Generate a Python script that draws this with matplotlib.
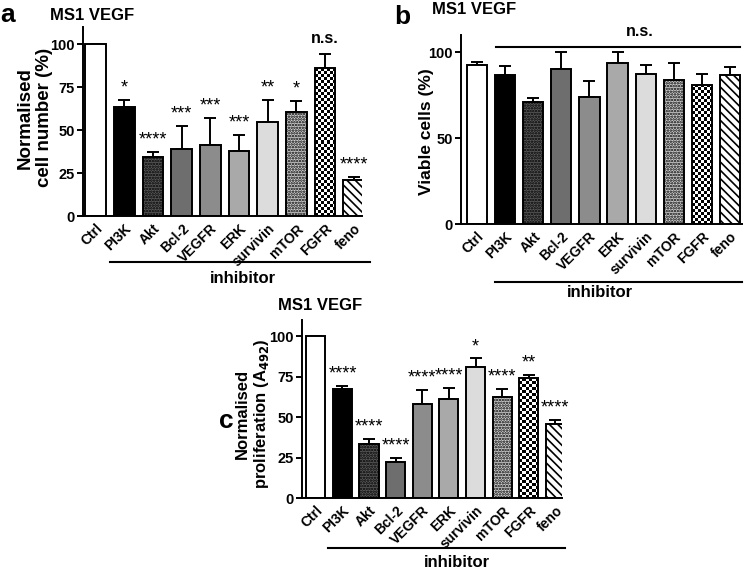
import numpy as np
import matplotlib
matplotlib.use("Agg")
import matplotlib.pyplot as plt
from matplotlib.lines import Line2D

plt.rcParams['font.family'] = ['Liberation Sans', 'DejaVu Sans']
plt.rcParams['font.weight'] = 'bold'
plt.rcParams['hatch.linewidth'] = 1.2

# categories (same for all three panels)
labels = ['Ctrl', 'PI3K', 'Akt', 'Bcl-2', 'VEGFR', 'ERK', 'survivin', 'mTOR', 'FGFR', 'feno']

# panel a: normalised cell number (%)
cell_mean = [100, 63.2, 34.5, 38.8, 41.1, 38.0, 54.5, 60.7, 85.9, 20.9]
cell_err = [0, 4.2, 2.9, 13.7, 15.7, 9.1, 13.3, 6.2, 8.3, 1.9]
cell_sig = ['', '*', '****', '***', '***', '***', '**', '*', 'n.s.', '****']

# panel b: viable cells (%)
viable_mean = [92.4, 86.6, 71.0, 90.3, 74.1, 93.8, 87.2, 84.1, 80.9, 86.8]
viable_err = [2.0, 5.6, 2.5, 9.7, 9.1, 6.2, 5.6, 9.7, 6.3, 4.3]

# panel c: normalised proliferation (A492)
prolif_mean = [100, 67.3, 33.1, 22.1, 58.0, 61.0, 80.7, 62.5, 74.1, 45.5]
prolif_err = [0, 2.0, 3.5, 2.7, 8.8, 6.9, 5.6, 4.8, 2.1, 2.7]
prolif_sig = ['', '****', '****', '****', '****', '****', '*', '****', '**', '****']

# bar styles (face colour, hatch); 'checker' is drawn as an image
faces = ['white', 'black', '#5a5a5a', '#6e6e6e', '#8c8c8c', '#a9a9a9',
         '#dcdcdc', '#d0d0d0', 'none', 'white']
hatches = [None, None, '......', None, None, None, None, '......', 'checker', '\\\\\\\\']

W, H = 745, 570
fig = plt.figure(figsize=(W / 100, H / 100), dpi=100)


def px_axes(left, right, bottom, top):
    # axes rectangle from pixel coordinates
    return fig.add_axes([left / W, 1 - bottom / H, (right - left) / W, (bottom - top) / H])


def checker(ax, bar, cell=3.0):
    # black/white checkerboard clipped to the bar
    x0, w, h = bar.get_x(), bar.get_width(), bar.get_height()
    p0 = ax.transData.transform((x0, 0))
    p1 = ax.transData.transform((x0 + w, h))
    ncol = max(1, int(round((p1[0] - p0[0]) / cell)))
    nrow = max(1, int(round((p1[1] - p0[1]) / cell)))
    grid = (np.add.outer(np.arange(nrow), np.arange(ncol)) % 2).astype(float)
    im = ax.imshow(grid, extent=(x0, x0 + w, 0, h), aspect='auto', cmap='gray',
                   interpolation='nearest', zorder=1.5, origin='lower')
    im.set_clip_path(bar)


def bar_panel(ax, means, errs, sigs, yticks, xlim):
    x = np.arange(len(labels))
    ax.set_xlim(*xlim)
    ax.set_ylim(0, 110)
    bars = ax.bar(x, means, width=0.72, color=faces, edgecolor='black', linewidth=1.4, zorder=2)
    for b, h in zip(bars, hatches):
        if h == 'checker':
            checker(ax, b)
        elif h:
            b.set_hatch(h)
    ax.errorbar(x, means, yerr=[np.zeros(len(errs)), errs], fmt='none', ecolor='black',
                elinewidth=1.4, capsize=4, capthick=1.4, zorder=1)
    if sigs:
        for xi, m, e, s in zip(x, means, errs, sigs):
            if not s:
                continue
            if s == 'n.s.':
                ax.text(xi, m + e + 5, s, ha='center', va='bottom', fontsize=11.5,
                        fontweight='bold')
            else:
                ax.text(xi, m + e + 2, s, ha='center', va='bottom', fontsize=13,
                        fontweight='normal')
    ax.set_xlim(*xlim)
    ax.set_ylim(0, 110)
    ax.set_yticks(yticks)
    ax.set_xticks(x)
    ax.set_xticklabels(labels, rotation=45, ha='right', rotation_mode='anchor',
                       fontsize=10, fontweight='bold')
    ax.tick_params(axis='x', length=0, pad=4)
    ax.tick_params(axis='y', length=4, width=1.4, labelsize=10.5, pad=2)
    for t in ax.get_yticklabels():
        t.set_fontweight('bold')
    ax.spines['top'].set_visible(False)
    ax.spines['right'].set_visible(False)
    ax.spines['left'].set_linewidth(1.4)
    ax.spines['bottom'].set_linewidth(1.4)


def inhibitor(x0, x1, y, ty, tx):
    fig.add_artist(Line2D([x0 / W, x1 / W], [1 - y / H, 1 - y / H], color='black', lw=1.5))
    fig.text(tx / W, 1 - ty / H, 'inhibitor', ha='center', va='baseline', fontsize=12,
             fontweight='bold')


# panel a
ax_a = px_axes(83, 362, 216, 27)
bar_panel(ax_a, cell_mean, cell_err, cell_sig, [0, 25, 50, 75, 100], (-0.44, 9.29))
ax_a.set_ylabel('Normalised\ncell number (%)', fontsize=13.5, fontweight='bold')
ax_a.yaxis.set_label_coords(-0.108, 0.52)
fig.text(0 / W, 1 - 15 / H, 'a', fontsize=19, fontweight='bold', va='center')
fig.text(50 / W, 1 - 15 / H, 'MS1 VEGF', fontsize=12, fontweight='bold', va='center')
inhibitor(110, 370, 262, 283, 243)

# panel b
ax_b = px_axes(461, 742, 224, 35)
bar_panel(ax_b, viable_mean, viable_err, None, [0, 50, 100], (-0.57, 9.43))
ax_b.set_ylabel('Viable cells (%)', fontsize=12.5, fontweight='bold')
ax_b.yaxis.set_label_coords(-0.096, 0.49)
ax_b.plot([0.67, 9.36], [103, 103], color='black', lw=1.5, clip_on=False)
ax_b.text(5.8, 107.5, 'n.s.', ha='center', va='bottom', fontsize=11.5, fontweight='bold')
fig.text(394 / W, 1 - 17 / H, 'b', fontsize=19, fontweight='bold', va='center')
fig.text(432 / W, 1 - 9 / H, 'MS1 VEGF', fontsize=12, fontweight='bold', va='center')
inhibitor(495, 742, 282, 297, 600)

# panel c
ax_c = px_axes(302, 562, 498, 320)
bar_panel(ax_c, prolif_mean, prolif_err, prolif_sig, [0, 25, 50, 75, 100], (-0.52, 9.25))
ax_c.set_ylabel('Normalised\nproliferation (A$_{\\mathbf{492}}$)', fontsize=12, fontweight='bold')
ax_c.yaxis.set_label_coords(-0.118, 0.475)
fig.text(219 / W, 1 - 421 / H, 'c', fontsize=19, fontweight='bold', va='center')
fig.text(278 / W, 1 - 305 / H, 'MS1 VEGF', fontsize=12, fontweight='bold', va='center')
inhibitor(328, 565, 548, 567, 457)

plt.savefig('out.png', dpi=100)
